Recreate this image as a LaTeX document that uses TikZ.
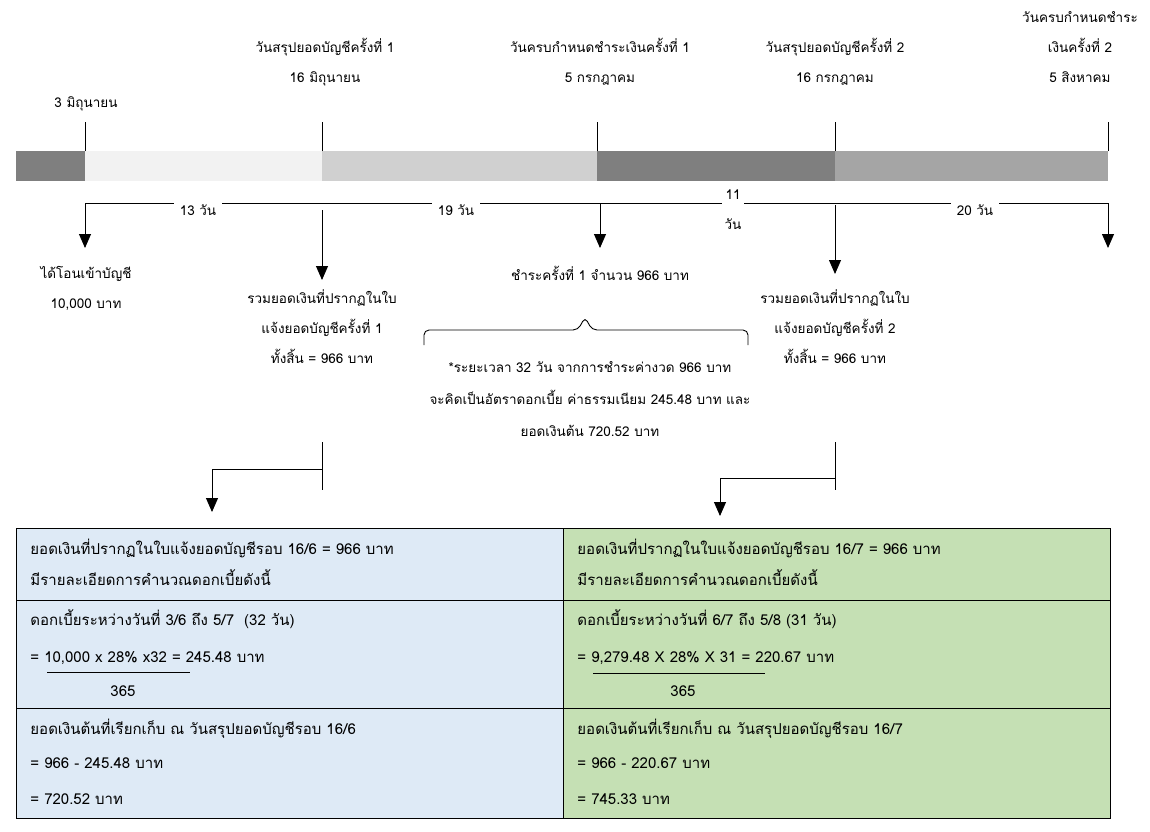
\documentclass[tikz,border=0pt]{standalone}
\usepackage{fontspec}
\setmainfont{Loma}[Script=Thai]
\usetikzlibrary{arrows.meta,positioning}
\definecolor{barDark}{HTML}{7F7F7F}
\definecolor{barPale}{HTML}{F2F2F2}
\definecolor{barLight}{HTML}{D0D0D0}
\definecolor{barMid}{HTML}{A5A5A5}
\definecolor{cellBlue}{HTML}{DEEAF6}
\definecolor{cellGreen}{HTML}{C5E0B4}
\tikzset{
  lbl/.style={font=\fontsize{13.5}{30}\selectfont,align=center,inner sep=1pt},
  daylbl/.style={lbl,fill=white,inner xsep=6pt,inner ysep=4pt},
  celltxt/.style={font=\fontsize{15}{18}\selectfont,anchor=base west,inner sep=0pt}
}

\begin{document}
\begin{tikzpicture}[x=1pt,y=-1pt,line width=0.9pt,>={Triangle[width=12pt,length=14pt]}]
  \useasboundingbox (0,0) rectangle (1150,831);

  \foreach \a/\b/\c in {16/85/barDark,85/322/barPale,322/597/barLight,597/835/barDark,835/1108/barMid}
    \fill[\c] (\a,151) rectangle (\b,181);

  \foreach \x [count=\i] in {85,322,597,835,1108} {
    \coordinate (t\i) at (\x,151);
    \draw (t\i) -- ++(0,-29);
  }

  \node[lbl] (start) at (86,104) {3 มิถุนายน};
  \node[lbl] (stmt1) at (325,62) {วันสรุปยอดบัญชีครั้งที่ 1\\16 มิถุนายน};
  \node[lbl] (due1) at (600,62) {วันครบกำหนดชำระเงินครั้งที่ 1\\5 กรกฎาคม};
  \node[lbl] (stmt2) at (835,62) {วันสรุปยอดบัญชีครั้งที่ 2\\16 กรกฎาคม};
  \node[lbl] (due2) at (1080,47) {วันครบกำหนดชำระ\\เงินครั้งที่ 2\\5 สิงหาคม};

  \coordinate (h1) at (85,203);
  \coordinate (h5) at (1108,203);
  \coordinate (a1) at (85,248);
  \coordinate (a5) at (1108,248);
  \draw[<->] (a1) -- (h1) -- (h5) -- (a5);

  \node[daylbl] (d13) at (198,210) {13 วัน};
  \node[daylbl] (d19) at (456,210) {19 วัน};
  \node[daylbl,inner xsep=3pt] (d11) at (733,210) {11\\วัน};
  \node[daylbl] (d20) at (975,210) {20 วัน};

  \coordinate (h3) at (600,203);
  \coordinate (a3) at (600,248);
  \coordinate (h2) at (322,210);
  \coordinate (a2) at (322,280);
  \coordinate (h4) at (835,205);
  \coordinate (a4) at (835,274);
  \draw[->] (h3) -- (a3);
  \draw[->] (h2) -- (a2);
  \draw[->] (h4) -- (a4);

  \node[lbl] (recv) at (86,288) {ได้โอนเข้าบัญชี\\10,000 บาท};
  \node[lbl] (pay1) at (600,273) {ชำระครั้งที่ 1 จำนวน 966 บาท};
  \node[lbl] (bill1) at (322,327) {รวมยอดเงินที่ปรากฏในใบ\\แจ้งยอดบัญชีครั้งที่ 1\\ทั้งสิ้น = 966 บาท};
  \node[lbl] (bill2) at (835,327) {รวมยอดเงินที่ปรากฏในใบ\\แจ้งยอดบัญชีครั้งที่ 2\\ทั้งสิ้น = 966 บาท};
  \node[lbl,font=\fontsize{13.5}{32}\selectfont] (note) at (590,399)
    {*ระยะเวลา 32 วัน จากการชำระค่างวด 966 บาท\\จะคิดเป็นอัตราดอกเบี้ย ค่าธรรมเนียม 245.48 บาท และ\\ยอดเงินต้น 720.52 บาท};

  \draw[rounded corners=5pt] (424,345) -- (424,330) -- (578,330) -- (585,317) -- (592,330) -- (748,330) -- (748,345);

  \coordinate (k1a) at (322,442);
  \coordinate (k1b) at (322,490);
  \coordinate (k1) at (322,469);
  \coordinate (k1t) at (212,512);
  \draw (k1a) -- (k1b);
  \draw[->] (k1) -| (k1t);
  \coordinate (k2a) at (835,442);
  \coordinate (k2b) at (835,490);
  \coordinate (k2) at (835,478);
  \coordinate (k2t) at (720,516);
  \draw (k2a) -- (k2b);
  \draw[->] (k2) -| (k2t);

  \fill[cellBlue] (16,528) rectangle (563,818);
  \fill[cellGreen] (563,528) rectangle (1110,818);
  \draw[line width=1pt] (16,528) rectangle (1110,818);
  \draw[line width=1pt] (563,528) -- (563,818);
  \foreach \y in {600,708}
    \draw[line width=1pt] (16,\y) -- (1110,\y);

  \node[celltxt] (l11) at (30,554) {ยอดเงินที่ปรากฏในใบแจ้งยอดบัญชีรอบ 16/6 = 966 บาท};
  \node[celltxt] (l12) at (30,585) {มีรายละเอียดการคำนวณดอกเบี้ยดังนี้};
  \node[celltxt] (l21) at (30,625) {ดอกเบี้ยระหว่างวันที่ 3/6 ถึง 5/7~~(32 วัน)};
  \node[celltxt] (l22) at (30,662) {= 10,000 x 28\% x32 = 245.48 บาท};
  \node[celltxt] (l23) at (110,696) {365};
  \node[celltxt] (l31) at (30,734) {ยอดเงินต้นที่เรียกเก็บ ณ วันสรุปยอดบัญชีรอบ 16/6};
  \node[celltxt] (l32) at (30,768) {= 966 - 245.48 บาท};
  \node[celltxt] (l33) at (30,804) {= 720.52 บาท};
  \draw (47,672) -- (190,672);

  \node[celltxt] (r11) at (577,554) {ยอดเงินที่ปรากฏในใบแจ้งยอดบัญชีรอบ 16/7 = 966 บาท};
  \node[celltxt] (r12) at (577,585) {มีรายละเอียดการคำนวณดอกเบี้ยดังนี้};
  \node[celltxt] (r21) at (577,625) {ดอกเบี้ยระหว่างวันที่ 6/7 ถึง 5/8 (31 วัน)};
  \node[celltxt] (r22) at (577,662) {= 9,279.48 X 28\% X 31 = 220.67 บาท};
  \node[celltxt] (r23) at (670,696) {365};
  \node[celltxt] (r31) at (577,734) {ยอดเงินต้นที่เรียกเก็บ ณ วันสรุปยอดบัญชีรอบ 16/7};
  \node[celltxt] (r32) at (577,768) {= 966 - 220.67 บาท};
  \node[celltxt] (r33) at (577,804) {= 745.33 บาท};
  \draw (593,673) -- (765,673);
\end{tikzpicture}
\end{document}
